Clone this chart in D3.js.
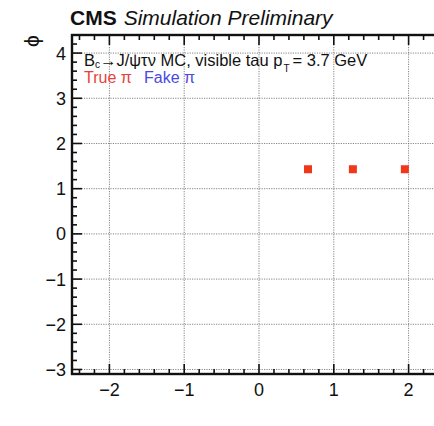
<!DOCTYPE html>
<html>
<head>
<meta charset="utf-8">
<script src="https://cdn.jsdelivr.net/npm/d3@7"></script>
<style>
body { margin: 0; background: #fff; }
svg { display: block; font-family: "Liberation Sans", Arial, Helvetica, sans-serif; }
</style>
</head>
<body>
<div id="chart"></div>
<script>
// Data
var etaVals = [0.655, 1.255, 1.95];
var phiVals = [1.43, 1.43, 1.43];
var xTicks = [-2, -1, 0, 1, 2];
var yTicks = [-3, -2, -1, 0, 1, 2, 3, 4];

var W = 434, H = 426;
var LEFT = 72, TOP = 35, BOTTOM = 374;
var X_MIN = -2.5, X_MAX = 2.5;
var Y_MIN = -3.1, Y_MAX = 4.4;
var PX_PER_X = 74.8;

var svg = d3.select("#chart").append("svg")
	.attr("width", W)
	.attr("height", H);

var x = d3.scaleLinear()
	.domain([X_MIN, X_MAX])
	.range([LEFT, LEFT + PX_PER_X * (X_MAX - X_MIN)]);
var y = d3.scaleLinear()
	.domain([Y_MIN, Y_MAX])
	.range([BOTTOM, TOP]);

var x0 = x(X_MIN), x1 = x(X_MAX), y0 = y(Y_MIN), y1 = y(Y_MAX);

// dotted grid at the major ticks
svg.append("g").selectAll("line.gx")
	.data(xTicks).enter().append("line")
	.attr("x1", function(d) { return x(d); })
	.attr("x2", function(d) { return x(d); })
	.attr("y1", y1).attr("y2", y0)
	.attr("stroke", "#777").attr("stroke-width", 0.9)
	.attr("stroke-dasharray", "1.2,1.2");
svg.append("g").selectAll("line.gy")
	.data(yTicks).enter().append("line")
	.attr("x1", x0).attr("x2", x1)
	.attr("y1", function(d) { return y(d); })
	.attr("y2", function(d) { return y(d); })
	.attr("stroke", "#777").attr("stroke-width", 0.9)
	.attr("stroke-dasharray", "1.2,1.2");

// minor + major ticks, ROOT style (pointing inwards)
var xMinor = d3.range(-2.4, 2.5, 0.2).map(function(v) { return Math.round(v * 10) / 10; });
var yMinor = d3.range(-3.0, 4.41, 0.2).map(function(v) { return Math.round(v * 10) / 10; });
var isMajor = function(v) { return Math.abs(v - Math.round(v)) < 1e-6; };

var ticks = svg.append("g").attr("stroke", "#111").attr("stroke-width", 1.6);
xMinor.forEach(function(v) {
	var len = isMajor(v) ? 10 : 5;
	ticks.append("line").attr("x1", x(v)).attr("x2", x(v)).attr("y1", y0).attr("y2", y0 - len);
	ticks.append("line").attr("x1", x(v)).attr("x2", x(v)).attr("y1", y1).attr("y2", y1 + len);
});
yMinor.forEach(function(v) {
	var len = isMajor(v) ? 10 : 5;
	ticks.append("line").attr("x1", x0).attr("x2", x0 + len).attr("y1", y(v)).attr("y2", y(v));
});

// frame
svg.append("rect")
	.attr("x", x0).attr("y", y1)
	.attr("width", x1 - x0).attr("height", y0 - y1)
	.attr("fill", "none").attr("stroke", "#111").attr("stroke-width", 2.4);

// tick labels
svg.append("g").selectAll("text")
	.data(xTicks).enter().append("text")
	.attr("x", function(d) { return x(d); })
	.attr("y", y0 + 22)
	.attr("text-anchor", "middle")
	.attr("font-size", 18)
	.attr("fill", "#111")
	.text(function(d) { return String(d).replace("-", "\u2212"); });
svg.append("g").selectAll("text")
	.data(yTicks).enter().append("text")
	.attr("x", x0 - 6)
	.attr("y", function(d) { return y(d) + 6.5; })
	.attr("text-anchor", "end")
	.attr("font-size", 18)
	.attr("fill", "#111")
	.text(function(d) { return String(d).replace("-", "\u2212"); });

// y axis title (phi, rotated)
svg.append("text")
	.attr("transform", "translate(39,41) rotate(-90)")
	.attr("text-anchor", "middle")
	.attr("font-size", 21)
	.attr("fill", "#111")
	.text("\u03d5");

// markers
svg.append("g").selectAll("rect")
	.data(etaVals).enter().append("rect")
	.attr("x", function(d) { return x(d) - 4; })
	.attr("y", function(d, i) { return y(phiVals[i]) - 4; })
	.attr("width", 8).attr("height", 8)
	.attr("fill", "#f2361b");

// CMS header
var head = svg.append("text").attr("x", 70).attr("y", 25).attr("font-size", 21).attr("fill", "#111");
head.append("tspan").attr("font-weight", "bold").text("CMS");
head.append("tspan").attr("font-style", "italic").attr("dx", 7).text("Simulation Preliminary");

// in-plot labels
var lab = svg.append("text").attr("x", 84).attr("y", 66).attr("font-size", 16.5).attr("fill", "#111");
lab.append("tspan").text("B");
lab.append("tspan").attr("font-size", 10).attr("dy", 2).text("c");
lab.append("tspan").attr("dy", -2).text("\u2192J/\u03c8\u03c4\u03bd MC, visible tau p");
lab.append("tspan").attr("font-size", 10).attr("dy", 6).attr("dx", 1).text("T");
lab.append("tspan").attr("dy", -6).attr("dx", 3).text("= 3.7 GeV");

svg.append("text").attr("x", 84).attr("y", 83).attr("font-size", 16)
	.attr("fill", "#e8413a").text("True \u03c0");
svg.append("text").attr("x", 144).attr("y", 83).attr("font-size", 16)
	.attr("fill", "#4a4ae0").text("Fake \u03c0");
</script>
</body>
</html>
